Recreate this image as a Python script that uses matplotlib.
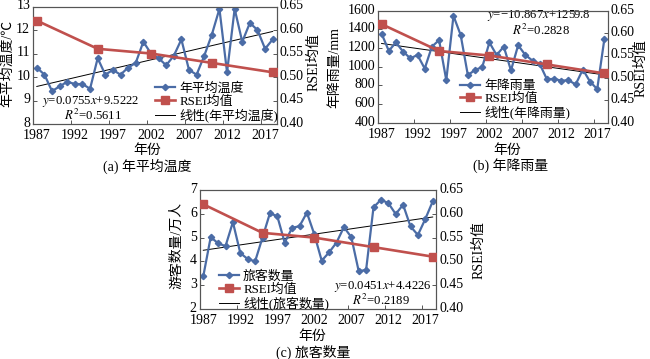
import numpy as np
import matplotlib
matplotlib.use("Agg")
import matplotlib.pyplot as plt
from matplotlib.lines import Line2D
from matplotlib.transforms import ScaledTranslation

plt.rcParams['font.family'] = ['Liberation Serif', 'Noto Sans CJK SC', 'DejaVu Sans']
plt.rcParams['mathtext.fontset'] = 'stix'

# data
years = np.arange(1987, 2019)
temp = [10.4, 10.1, 9.4, 9.6, 9.8, 9.7, 9.7, 9.5, 10.8, 10.1, 10.3, 10.1, 10.4, 10.6, 11.5, 11.0,
        10.8, 10.5, 10.9, 11.6, 10.3, 10.1, 10.9, 11.8, 12.9, 10.2, 12.9, 11.5, 12.3, 12.0, 11.2, 11.6]
rain = [1355, 1170, 1260, 1160, 1090, 1125, 980, 1215, 1285, 855, 1545, 1340, 910, 965, 995, 1260,
        1125, 1215, 960, 1230, 1125, 1065, 1030, 865, 870, 850, 855, 810, 970, 840, 760, 1300]
tourists = [3.38, 5.02, 4.76, 4.64, 5.65, 4.35, 4.10, 4.00, 5.00, 6.02, 5.90, 4.79, 5.41, 5.48, 6.05, 5.14,
            4.03, 4.38, 4.79, 5.44, 5.02, 3.59, 3.64, 6.27, 6.59, 6.45, 5.99, 6.38, 5.47, 5.11, 5.78, 6.52]
rsei_years = [1987, 1995, 2002, 2010, 2018]
rsei = [0.62, 0.56, 0.55, 0.53, 0.51]

# trend coefficients shown on the chart (x = 1..32)
temp_fit = (0.0755, 9.5222, '0.5611')
rain_fit = (-10.867, 1259.8, '0.2828')
tour_fit = (0.0451, 4.4226, '0.2189')

tick_years = [1987, 1992, 1997, 2002, 2007, 2012, 2017]

BLUE = '#4b6ca6'
RED = '#c0504d'
FRAME = '#555555'
W, H = 650, 359


def px(x, y):
    return x / W, 1 - y / H


def panel(fig, box, vals, ylim, yticks, name, fit, eq, eq_xy, r2_xy, leg_xy):
    l, t, r, b = box
    ax = fig.add_axes([l / W, 1 - b / H, (r - l) / W, (b - t) / H])
    ax2 = ax.twinx()
    idx = np.arange(1, len(years) + 1)
    ax.plot(years, vals, color=BLUE, lw=1.6, marker='D', ms=3.2, zorder=3)
    ax.plot(years, fit[0] * idx + fit[1], color='black', lw=0.7, zorder=2)
    ax2.plot(rsei_years, rsei, color=RED, lw=1.9, marker='s', ms=5.5, zorder=3)

    ax.set_ylim(*ylim)
    ax.set_yticks(yticks)
    ax2.set_ylim(0.40, 0.65)
    r_ticks = np.arange(0.40, 0.651, 0.05)
    ax2.set_yticks(r_ticks)
    ax2.set_yticklabels(['%.2f' % v for v in r_ticks])

    # category-style axis: labels on categories, tick marks between them
    ax.set_xlim(years[0] - 0.5, years[-1] + 0.5)
    ax.set_xticks(tick_years)
    ax.set_xticklabels([str(y) for y in tick_years])
    ax.set_xticks([y - 0.5 for y in tick_years[1:]], minor=True)
    ax.tick_params(axis='x', which='major', length=0, pad=3.8)
    ax.tick_params(axis='x', which='minor', direction='in', length=3, width=0.7, color=FRAME)

    lift = ScaledTranslation(0, 1.5 / 72, fig.dpi_scale_trans)
    for a in (ax, ax2):
        a.tick_params(axis='y', direction='in', length=3, width=0.7, pad=2, color=FRAME)
        a.tick_params(labelsize=10)
        for lab in a.get_yticklabels():
            lab.set_transform(lab.get_transform() + lift)
        for s in a.spines.values():
            s.set_color(FRAME)
            s.set_linewidth(0.8)

    ax.text(eq_xy[0], eq_xy[1], eq, transform=ax.transAxes, ha='center', va='center', fontsize=9.2)
    ax.text(r2_xy[0], r2_xy[1], '$R^2$=' + fit[2], transform=ax.transAxes, ha='center', va='center',
            fontsize=9.2)

    handles = [Line2D([], [], color=BLUE, lw=1.6, marker='D', ms=3.2),
               Line2D([], [], color=RED, lw=1.9, marker='s', ms=5.5),
               Line2D([], [], color='black', lw=0.7)]
    labels = [name, 'RSEI均值', '线性(' + name + ')']
    ax2.legend(handles, labels, loc='upper left', bbox_to_anchor=leg_xy, frameon=False, fontsize=9.3,
               borderpad=0, borderaxespad=0, handlelength=1.6, handletextpad=0.3, labelspacing=0.05)
    return ax, ax2


fig = plt.figure(figsize=(6.5, 3.59), dpi=100)

# (a) 年平均温度
panel(fig, (33, 6.5, 276.5, 124), temp, (8, 13), range(8, 14), '年平均温度',
      temp_fit, '$y$=0.0755$x$+9.5222', (0.235, 0.195), (0.245, 0.07), (0.50, 0.355))
# (b) 年降雨量
panel(fig, (378, 10.7, 608, 122.7), rain, (400, 1600), range(400, 1601, 200), '年降雨量',
      rain_fit, '$y$=−10.867$x$+1259.8', (0.70, 0.955), (0.71, 0.82), (0.355, 0.38))
# (c) 旅客数量
panel(fig, (199.6, 190, 436.4, 309), tourists, (2, 7), range(2, 8), '旅客数量',
      tour_fit, '$y$=0.0451$x$+4.4226', (0.775, 0.19), (0.765, 0.075), (0.08, 0.325))

labels = [
    (8, 63, '年平均温度/℃', 90), (314, 62, 'RSEI均值', 90),
    (147, 150, '年份', 0), (147, 166, '(a) 年平均温度', 0),
    (335, 68, '年降雨量/mm', 90), (641, 68, 'RSEI均值', 90),
    (507, 150, '年份', 0), (511, 166, '(b) 年降雨量', 0),
    (177, 245, '游客数量/万人', 90), (479, 250, 'RSEI均值', 90),
    (312, 336, '年份', 0), (313, 352, '(c) 旅客数量', 0),
]
for x, y, s, rot in labels:
    fx, fy = px(x, y)
    fig.text(fx, fy, s, ha='center', va='center', rotation=rot, fontsize=10)

fig.savefig('out.png', dpi=100)
